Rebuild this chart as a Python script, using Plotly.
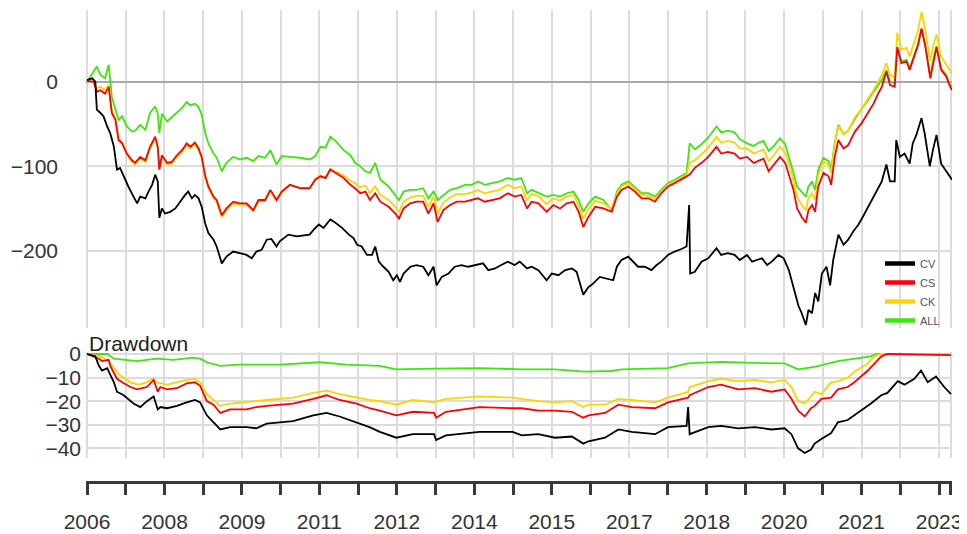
import plotly.graph_objects as go

# ---------------- data (decimal years) ----------------
# Top panel: CS / CK / ALL share one x grid
grid_x = [
    2006.0, 2006.13, 2006.19, 2006.26, 2006.35, 2006.42, 2006.48, 2006.55, 2006.61, 2006.68,
    2006.77, 2006.87, 2006.93, 2007.03, 2007.13, 2007.22, 2007.32, 2007.37, 2007.4, 2007.45,
    2007.55, 2007.64, 2007.74, 2007.84, 2007.93, 2008.0, 2008.09, 2008.16, 2008.22, 2008.29,
    2008.35, 2008.45, 2008.51, 2008.61, 2008.7, 2008.83, 2008.96, 2009.09, 2009.22, 2009.32,
    2009.45, 2009.55, 2009.67, 2009.77, 2009.93, 2010.12, 2010.31,
    2010.42, 2010.52, 2010.62, 2010.71, 2010.81, 2010.97, 2011.1, 2011.19, 2011.29, 2011.39,
    2011.48, 2011.58, 2011.68, 2011.84, 2011.97, 2012.04, 2012.13, 2012.26, 2012.38, 2012.51,
    2012.61, 2012.71, 2012.79, 2012.9, 2013.03, 2013.16, 2013.32, 2013.45, 2013.57, 2013.7,
    2013.83, 2013.99, 2014.15, 2014.28, 2014.41,
    2014.52, 2014.61, 2014.74, 2014.9, 2015.03, 2015.16, 2015.29, 2015.42, 2015.52, 2015.61,
    2015.71, 2015.84, 2016.0, 2016.16, 2016.26, 2016.35, 2016.48, 2016.61, 2016.74, 2016.87,
    2017.0, 2017.12, 2017.25, 2017.38, 2017.51, 2017.61, 2017.67, 2017.77, 2017.9, 2018.03,
    2018.19, 2018.28, 2018.41, 2018.54, 2018.64,
    2018.78, 2018.91, 2019.01, 2019.1, 2019.2, 2019.3, 2019.42, 2019.52, 2019.62, 2019.68,
    2019.75, 2019.84, 2019.92, 2019.97, 2020.04, 2020.1, 2020.16, 2020.26, 2020.36, 2020.41,
    2020.48, 2020.55, 2020.65, 2020.74, 2020.87, 2021.0, 2021.1, 2021.23, 2021.32, 2021.39,
    2021.48, 2021.55, 2021.64, 2021.69, 2021.77, 2021.87, 2021.93, 2022.03, 2022.09, 2022.16,
    2022.23, 2022.33, 2022.4, 2022.45, 2022.54, 2022.64, 2022.7, 2022.75,
]
cs_vals = [
    1, 0, -12, -10, -14, -6, -37, -45, -69, -73, -85, -93, -96, -89, -93, -77, -65, -77, -104, -87,
    -96, -95, -87, -81, -73, -77, -72, -79, -89, -112, -124, -136, -140, -158, -150, -142, -144, -144, -152, -140,
    -140, -128, -140, -130, -122, -126, -126,
    -116, -112, -114, -104, -108, -114, -122, -126, -132, -130, -140, -132, -142, -148, -156, -162, -150, -144, -142, -142,
    -156, -144, -166, -152, -146, -142, -142, -140, -138, -142, -140, -138, -132, -136, -134,
    -150, -142, -144, -154, -146, -150, -144, -142, -154, -172, -160, -148, -150, -154, -136, -128, -124, -130, -138, -138,
    -142, -132, -124, -120, -116, -112, -110, -102, -96, -89, -77, -85, -83, -85, -91,
    -89, -96, -93, -91, -106, -98, -89, -96, -116, -128, -150, -160, -167, -152, -146, -154, -124, -108, -112, -122,
    -89, -69, -79, -75, -59, -49, -39, -26, -14, -6, 12, -4, -6, 41, 22, 24, 14, 31, 43, 63,
    43, 4, 28, 41, 14, 6, -4, -10,
]
ck_vals = [
    1, 0, -8, -6, -10, -4, -34, -44, -66, -72, -86, -95, -98, -91, -95, -79, -67, -79, -104, -89,
    -98, -97, -89, -83, -75, -79, -74, -81, -90, -113, -126, -138, -142, -160, -152, -144, -146, -146, -153, -142,
    -141, -129, -141, -131, -122, -126, -127,
    -115, -111, -113, -103, -106, -111, -117, -120, -125, -123, -132, -124, -134, -140, -148, -154, -142, -137, -135, -135,
    -148, -136, -156, -143, -137, -133, -133, -131, -128, -132, -130, -128, -122, -126, -124,
    -140, -133, -135, -145, -138, -141, -136, -134, -146, -162, -151, -141, -144, -150, -133, -124, -120, -127, -134, -135,
    -139, -130, -122, -118, -114, -110, -96, -93, -86, -78, -65, -72, -70, -72, -79,
    -79, -85, -82, -80, -94, -87, -77, -84, -102, -116, -136, -146, -152, -138, -132, -140, -110, -94, -98, -108,
    -74, -52, -62, -58, -42, -32, -22, -10, 0, 8, 22, 8, 6, 58, 38, 40, 30, 48, 60, 83,
    62, 24, 46, 56, 30, 20, 14, 10,
]
all_vals = [
    0, 12, 18, 8, 4, 20, -18, -33, -45, -41, -53, -59, -58, -51, -57, -37, -29, -38, -61, -38,
    -47, -42, -37, -31, -24, -28, -26, -30, -39, -61, -73, -85, -90, -106, -96, -89, -92, -90, -94, -88,
    -90, -81, -98, -88, -89, -90, -92,
    -88, -77, -78, -65, -70, -81, -87, -96, -100, -106, -108, -96, -116, -124, -134, -140, -130, -128, -128, -126,
    -138, -130, -140, -134, -128, -126, -122, -122, -118, -122, -120, -118, -114, -116, -114,
    -132, -128, -132, -136, -134, -136, -132, -130, -140, -154, -144, -136, -140, -152, -130, -122, -118, -125, -132, -132,
    -136, -128, -120, -116, -112, -108, -73, -80, -74, -66, -53, -60, -58, -60, -68,
    -73, -76, -72, -70, -82, -76, -67, -74, -94, -108, -124, -130, -136, -124, -118, -128, -104, -90, -94, -104,
    -72, -51, -62, -58, -44, -32, -24, -12, -4, 2, 14, 0, -2, 40, 24, 26, 16, 32, 44, 62,
    44, 6, 30, 42, 16, 8, -2, -6,
]

cv_x = [
    2006.0, 2006.1, 2006.16, 2006.19, 2006.26, 2006.32, 2006.39, 2006.45, 2006.52, 2006.58,
    2006.64, 2006.71, 2006.8, 2006.9, 2006.97, 2007.03, 2007.13, 2007.19, 2007.26, 2007.32,
    2007.37, 2007.4, 2007.45, 2007.51, 2007.61, 2007.71, 2007.8, 2007.9, 2007.96, 2008.03,
    2008.09, 2008.16, 2008.22, 2008.29, 2008.35, 2008.45, 2008.51, 2008.61, 2008.7, 2008.83,
    2008.96, 2009.09, 2009.19, 2009.28, 2009.38, 2009.48, 2009.57, 2009.67, 2009.73, 2009.9,
    2010.06, 2010.31,
    2010.39, 2010.49, 2010.58, 2010.71, 2010.81, 2010.94, 2011.07, 2011.16, 2011.23, 2011.32,
    2011.42, 2011.52, 2011.58, 2011.65, 2011.74, 2011.84, 2011.93, 2012.0, 2012.06, 2012.13,
    2012.26, 2012.38, 2012.51, 2012.61, 2012.71, 2012.77, 2012.87, 2013.0, 2013.12, 2013.25,
    2013.38, 2013.51, 2013.67, 2013.77, 2013.9, 2014.02, 2014.15, 2014.28, 2014.38,
    2014.52, 2014.61, 2014.74, 2014.9, 2015.0, 2015.13, 2015.26, 2015.39, 2015.48, 2015.55,
    2015.61, 2015.71, 2015.8, 2015.93, 2016.06, 2016.19, 2016.26, 2016.35, 2016.48, 2016.58,
    2016.67, 2016.8, 2016.93, 2017.03, 2017.12, 2017.25, 2017.38, 2017.51, 2017.61, 2017.66,
    2017.68, 2017.77, 2017.9, 2018.03, 2018.19, 2018.28, 2018.41, 2018.54, 2018.64,
    2018.78, 2018.88, 2018.97, 2019.07, 2019.17, 2019.26, 2019.39, 2019.49, 2019.59, 2019.65,
    2019.71, 2019.78, 2019.84, 2019.92, 2019.97, 2020.04, 2020.1, 2020.16, 2020.23, 2020.32,
    2020.39, 2020.45, 2020.55, 2020.65, 2020.74, 2020.84, 2020.94, 2021.04, 2021.16, 2021.26,
    2021.39, 2021.48, 2021.55, 2021.64, 2021.67, 2021.74, 2021.83, 2021.93, 2021.99, 2022.06,
    2022.16, 2022.22, 2022.32, 2022.38, 2022.45, 2022.54, 2022.64, 2022.7, 2022.75,
]
cv_vals = [
    2, 4, 0, -33, -37, -41, -53, -61, -77, -104, -102, -112, -124, -136, -144, -136, -138, -130, -122, -110,
    -118, -161, -150, -156, -154, -150, -142, -134, -130, -138, -134, -138, -148, -168, -179, -187, -195, -215, -207, -201,
    -203, -205, -209, -201, -199, -187, -186, -195, -189, -181, -183, -181,
    -175, -169, -173, -163, -167, -173, -181, -185, -193, -195, -205, -205, -195, -213, -219, -225, -235, -229, -237, -227,
    -219, -217, -219, -229, -219, -241, -231, -227, -219, -217, -219, -217, -215, -223, -221, -217, -213, -217, -213,
    -221, -219, -223, -235, -227, -229, -223, -221, -225, -239, -252, -243, -239, -231, -233, -235, -219, -211, -207, -213,
    -219, -219, -223, -217, -213, -205, -201, -198, -195, -146, -227, -225, -213, -209, -197, -205, -203, -205, -211,
    -205, -213, -211, -209, -217, -213, -205, -209, -223, -235, -250, -266, -274, -288, -270, -274, -250, -260, -227, -219,
    -241, -211, -181, -193, -187, -177, -169, -158, -144, -132, -118, -98, -118, -118, -69, -89, -85, -97, -73, -63,
    -43, -61, -100, -81, -63, -97, -106, -112, -116,
]

# Drawdown panel
dd_all_x = [2006.0, 2006.39, 2006.52, 2006.71, 2006.97, 2007.35, 2007.67, 2008.06, 2008.19, 2008.32,
            2008.58, 2008.96, 2009.73, 2010.51, 2011.02, 2011.67, 2011.99, 2012.72, 2013.6, 2014.42,
            2015.06, 2015.64, 2016.16, 2016.35, 2017.25, 2017.64, 2018.28, 2018.93, 2019.51, 2019.77,
            2020.09, 2020.54, 2021.18, 2021.28, 2022.73]
dd_all = [0, 0, -2, -2.5, -3, -2, -2.5, -1.5, -2, -3.5, -5, -4.5, -4.5, -3.5, -4.5, -5, -6.5, -6.2, -6, -6.5,
          -6.5, -7.5, -7.2, -6.5, -6, -4, -3.3, -3.8, -4, -6.5, -5.5, -3, -1, 0, 0]

dd_ck_x = [2006.0, 2006.26, 2006.42, 2006.52, 2006.64, 2006.84, 2007.0, 2007.16, 2007.26, 2007.35,
           2007.55, 2007.74, 2007.93, 2008.09, 2008.19, 2008.32, 2008.45, 2008.58, 2008.77, 2009.09,
           2009.28, 2009.48, 2009.73, 2009.99, 2010.38, 2010.64, 2010.89, 2011.22, 2011.47, 2011.67,
           2011.99, 2012.31, 2012.72, 2012.95, 2013.6, 2014.24, 2014.42, 2014.74, 2015.06, 2015.39,
           2015.61, 2015.71, 2016.03, 2016.29, 2016.55, 2017.0, 2017.25, 2017.64, 2017.67, 2018.03,
           2018.28, 2018.61, 2018.93, 2019.25, 2019.51, 2019.64, 2019.77, 2019.9, 2020.02, 2020.09,
           2020.22, 2020.41, 2020.54, 2020.73, 2020.86, 2021.12, 2021.25, 2021.38, 2022.73]
dd_ck = [0, -1, -3, -6, -9, -12, -13, -12, -10.5, -12, -13, -12, -11, -10.5, -12, -17, -19.5, -22, -21, -20.5,
         -20, -19.5, -19, -18.5, -16.5, -15.5, -17, -18.5, -19.5, -20, -21.5, -19.5, -20.5, -19, -18, -18.5, -19, -20, -20.5, -20,
         -22.5, -21.5, -21.5, -19, -19.5, -20.5, -18.5, -16, -14, -11.5, -10.5, -11.5, -11, -12, -11, -14, -20, -21, -18, -16,
         -17, -12, -11.5, -10, -7.5, -4, -1, 0, 0]

dd_cs_x = [2006.0, 2006.23, 2006.29, 2006.42, 2006.45, 2006.58, 2006.68, 2006.84, 2006.97, 2007.16,
           2007.29, 2007.37, 2007.42, 2007.55, 2007.74, 2007.93, 2008.09, 2008.19, 2008.32, 2008.45,
           2008.58, 2008.77, 2009.09, 2009.28, 2009.48, 2009.73, 2009.99, 2010.38, 2010.64, 2010.89,
           2011.22, 2011.47, 2011.67, 2011.99, 2012.31, 2012.72, 2012.76, 2012.95, 2013.6, 2014.24,
           2014.42, 2014.74, 2015.06, 2015.39, 2015.61, 2015.71, 2016.03, 2016.29, 2016.55, 2017.0,
           2017.25, 2017.64, 2017.67, 2018.03, 2018.28, 2018.61, 2018.93, 2019.25, 2019.51, 2019.64,
           2019.77, 2019.9, 2020.02, 2020.09, 2020.22, 2020.41, 2020.54, 2020.73, 2020.86, 2021.12,
           2021.25, 2021.38, 2021.5, 2022.73]
dd_cs = [0, -2, -3, -2.5, -5, -10.5, -12, -14, -15, -14, -11, -16, -14, -15, -14.5, -12.5, -12, -13.5, -20, -21.5,
         -25, -23.5, -23.5, -22.5, -22, -21.5, -21, -19, -17.5, -19.5, -21, -23, -24, -26, -24.5, -25, -27, -24.5, -22.5, -23,
         -23, -24, -24, -24.5, -27, -26, -25, -21.5, -22.5, -23, -20.5, -18.5, -17.5, -14, -13, -15, -14.5, -16, -15, -19,
         -24, -26.5, -23, -22, -19, -18.5, -15, -14, -12, -7, -4, -1, 0, -0.5]

dd_cv_x = [2006.0, 2006.16, 2006.23, 2006.29, 2006.39, 2006.45, 2006.52, 2006.58, 2006.71, 2006.9,
           2007.03, 2007.16, 2007.29, 2007.37, 2007.42, 2007.55, 2007.74, 2007.93, 2008.09, 2008.19,
           2008.32, 2008.45, 2008.58, 2008.77, 2009.09, 2009.28, 2009.48, 2009.73, 2009.99, 2010.38,
           2010.64, 2010.89, 2011.22, 2011.47, 2011.67, 2011.99, 2012.31, 2012.72, 2012.76, 2012.95,
           2013.6, 2014.24, 2014.42, 2014.74, 2015.06, 2015.39, 2015.61, 2015.71, 2016.03, 2016.29,
           2016.55, 2017.0, 2017.25, 2017.61, 2017.64, 2017.67, 2018.03, 2018.28, 2018.61, 2018.93,
           2019.25, 2019.51, 2019.64, 2019.77, 2019.9, 2020.02, 2020.09, 2020.22, 2020.41, 2020.54,
           2020.73, 2020.86, 2021.18, 2021.38, 2021.5, 2021.7, 2021.83, 2022.02, 2022.15, 2022.28,
           2022.44, 2022.6, 2022.73]
dd_cv = [0, -1, -5, -7, -6, -9, -12, -16, -17.5, -21, -22.5, -20, -18, -23.5, -22.5, -23, -22, -20.5, -19.5, -20.5,
         -26, -29, -32, -31, -31, -31.5, -29.5, -29, -28.5, -26, -25, -26.5, -29, -31, -33, -35.5, -34, -34, -36.5, -34.5,
         -33, -33, -34.5, -34, -35.5, -35, -38, -37, -35.5, -32, -33, -34, -31, -30.5, -22.5, -34, -31, -30.5, -31.5, -31,
         -32, -31.5, -34, -40, -42, -40.5, -38, -36, -33.5, -29, -28, -26, -21, -17.5, -16.5, -11.5, -13, -10.5, -7, -12,
         -9.5, -14, -17]

# axis ticks
tick_years = [2006.0, 2006.75, 2007.5, 2008.25, 2009.0, 2009.75, 2010.5, 2011.25, 2012.0, 2012.75,
              2013.5, 2014.25, 2015.0, 2015.75, 2016.5, 2017.25, 2018.0, 2018.75, 2019.5, 2020.25,
              2021.0, 2021.75, 2022.5, 2022.73]
tick_labels = ["2006", "", "2008", "", "2009", "", "2011", "", "2012", "", "2014", "", "2015", "",
               "2017", "", "2018", "", "2020", "", "2021", "", "2023", ""]
top_ticks = [-200, -100, 0]
dd_ticks = [-40, -30, -20, -10, 0]

series_names = ["ALL", "CK", "CS", "CV"]
colors = {"CV": "#000000", "CS": "#FF0000", "CK": "#FFD300", "ALL": "#3DE60F"}

# ---------------- figure ----------------
# the page body has an 8px margin; figure is placed at (8, 8) in the window
OFF = 8
W, H = 967 - OFF, 534 - OFF
FONT = "Arial, Liberation Sans, sans-serif"
TXT = "#333333"
GRID = "#dcdcdc"


def px(X):
    return (X - OFF) / W


def py(Y):
    return 1 - (Y - OFF) / H


fig = go.Figure()
top_data = {"ALL": (grid_x, all_vals), "CK": (grid_x, ck_vals), "CS": (grid_x, cs_vals), "CV": (cv_x, cv_vals)}
dd_data = {"ALL": (dd_all_x, dd_all), "CK": (dd_ck_x, dd_ck), "CS": (dd_cs_x, dd_cs), "CV": (dd_cv_x, dd_cv)}

for name in series_names:
    xs, ys = top_data[name]
    fig.add_trace(go.Scatter(x=xs, y=ys, mode="lines", name=name, showlegend=False,
                             line=dict(color=colors[name], width=1.8), xaxis="x", yaxis="y",
                             hoverinfo="skip"))
for name in series_names:
    xs, ys = dd_data[name]
    fig.add_trace(go.Scatter(x=xs, y=ys, mode="lines", name=name, showlegend=False,
                             line=dict(color=colors[name], width=1.8), xaxis="x2", yaxis="y2",
                             hoverinfo="skip"))
# legend entries (thick swatches)
for name in ["CV", "CS", "CK", "ALL"]:
    fig.add_trace(go.Scatter(x=[None], y=[None], mode="lines", name=name,
                             line=dict(color=colors[name], width=4.5), xaxis="x", yaxis="y"))
# empty trace so that the time-axis subplot exists
fig.add_trace(go.Scatter(x=[None], y=[None], mode="lines", showlegend=False,
                         xaxis="x3", yaxis="y3", hoverinfo="skip"))

xdom = [px(86), px(952)]
xrange_ = [2005.98, 2022.75]
common_x = dict(range=xrange_, domain=xdom, tickmode="array", tickvals=tick_years,
                showticklabels=False, ticks="", showgrid=True, gridcolor=GRID, gridwidth=1.6,
                zeroline=False, showline=False, fixedrange=True, automargin=False)

fig.update_layout(
    width=W, height=H,
    margin=dict(l=0, r=0, t=0, b=0, pad=0),
    paper_bgcolor="white", plot_bgcolor="white",
    font=dict(family=FONT, color=TXT),
    xaxis=dict(anchor="y", **common_x),
    xaxis2=dict(anchor="y2", **common_x),
    xaxis3=dict(anchor="y3", range=xrange_, domain=xdom, tickmode="array",
                tickvals=tick_years, ticktext=tick_labels, showgrid=False, zeroline=False,
                showline=True, linecolor="#3a3a3a", linewidth=3,
                ticks="outside", ticklen=11, tickwidth=3, tickcolor="#3a3a3a",
                tickfont=dict(size=21, color=TXT, family=FONT), ticklabelstandoff=9,
                ticklabeloverflow="allow", tickangle=0,
                fixedrange=True, automargin=False),
    yaxis=dict(anchor="x", domain=[py(328), py(10)], range=[-291.5, 84.9],
               tickmode="array", tickvals=top_ticks, ticks="", showgrid=True, gridcolor=GRID,
               gridwidth=1.6, zeroline=True, zerolinecolor="#a8a8a8", zerolinewidth=1.6,
               tickfont=dict(size=21, color=TXT, family=FONT), ticklabelstandoff=27,
               fixedrange=True, automargin=False),
    yaxis2=dict(anchor="x2", domain=[py(458), py(352)], range=[-44.1, 0.85],
                tickmode="array", tickvals=dd_ticks, ticks="", showgrid=True, gridcolor=GRID,
                gridwidth=1.6, zeroline=False,
                tickfont=dict(size=21, color=TXT, family=FONT), ticklabelstandoff=4,
                fixedrange=True, automargin=False),
    yaxis3=dict(anchor="x3", domain=[py(481), py(470)], visible=False, range=[0, 1],
                fixedrange=True, automargin=False),
    legend=dict(x=px(880), y=py(249), xanchor="left", yanchor="top",
                bgcolor="rgba(255,255,255,0)", font=dict(size=11, color="#555555", family=FONT),
                itemwidth=30, tracegroupgap=0),
    annotations=[dict(text="Drawdown", xref="paper", yref="paper", x=px(87), y=py(343),
                      xanchor="left", yanchor="middle", showarrow=False,
                      font=dict(size=21, color="#222222", family=FONT))],
    showlegend=True,
)

fig.write_html("out.html")
